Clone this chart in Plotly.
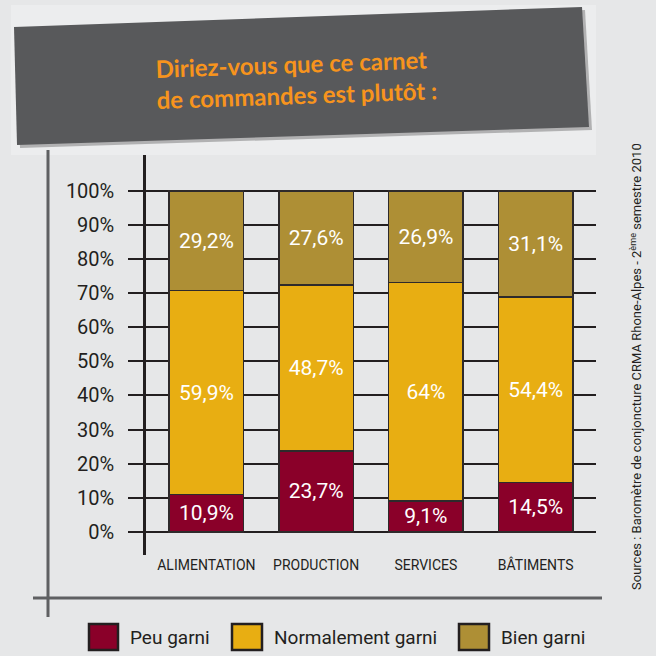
import plotly.graph_objects as go

categories = ["ALIMENTATION", "PRODUCTION", "SERVICES", "BÂTIMENTS"]
series_names = ["Peu garni", "Normalement garni", "Bien garni"]
peu_garni = [10.9, 23.7, 9.1, 14.5]
normalement_garni = [59.9, 48.7, 64.0, 54.4]
bien_garni = [29.2, 27.6, 26.9, 31.1]
tick_values = [0, 10, 20, 30, 40, 50, 60, 70, 80, 90, 100]
tick_labels = [f"{v}%" for v in tick_values]

colors = ["#8a0029", "#e8ae12", "#ae8f35"]
W, H = 656, 656
L, R, T, B = 146, 60, 155, 101
NARROW = "Roboto, Liberation Sans, sans-serif"
DARK = "#231f20"


def px(x):
    return (x - L) / (W - L - R)


def py(y):
    return (H - B - y) / (H - T - B)


def fmt(v):
    s = f"{v:.1f}".rstrip("0").rstrip(".")
    return s.replace(".", ",") + "%"


fig = go.Figure()
for name, vals, col in zip(series_names, [peu_garni, normalement_garni, bien_garni], colors):
    fig.add_trace(go.Bar(
        x=categories, y=vals, name=name,
        marker=dict(color=col, line=dict(color="#2e2a2b", width=1.5)),
        text=[fmt(v) for v in vals], textposition="inside",
        insidetextanchor="middle", textangle=0, constraintext="none",
        textfont=dict(family=NARROW, size=21, color="white"),
        width=0.68, showlegend=False,
    ))

shapes = []
shapes.append(dict(type="rect", xref="paper", yref="paper", x0=px(11), x1=px(596), y0=py(5), y1=py(155),
                   fillcolor="#ecedee", line=dict(width=0), layer="below"))
box = [(14, 27), (582, 7), (589, 127), (17, 145)]


def path(pts, dx=0, dy=0):
    return "M " + " L ".join(f"{px(x+dx)},{py(y+dy)}" for x, y in pts) + " Z"


shapes.append(dict(type="path", xref="paper", yref="paper", path=path(box, 3, 3),
                   fillcolor="rgba(0,0,0,0.25)", line=dict(width=0)))
shapes.append(dict(type="path", xref="paper", yref="paper", path=path(box),
                   fillcolor="#58595b", line=dict(width=0)))
shapes.append(dict(type="line", xref="paper", yref="paper", x0=px(48), x1=px(48), y0=py(150), y1=py(617),
                   line=dict(color="#5f6062", width=3)))
shapes.append(dict(type="line", xref="paper", yref="paper", x0=px(33), x1=px(602), y0=py(598), y1=py(598),
                   line=dict(color="#5f6062", width=3)))

annotations = []
annotations.append(dict(
    xref="paper", yref="paper", x=px(296), y=py(79), xanchor="center", yanchor="middle",
    text="<b>Diriez-vous que ce carnet<br>de commandes est plutôt :</b>", align="left",
    textangle=-2, showarrow=False,
    font=dict(family="Lato, Open Sans, sans-serif", size=24, color="#f7941d"),
))
annotations.append(dict(
    xref="paper", yref="paper", x=px(636), y=py(367), xanchor="center", yanchor="middle",
    text="Sources : Baromètre de conjoncture CRMA Rhone-Alpes - 2<sup>ème</sup> semestre 2010",
    textangle=-90, showarrow=False,
    font=dict(family=NARROW, size=13, color=DARK),
))

leg_boxes = [(89, 118), (232, 262), (459, 489)]
for (x0, x1), name, col in zip(leg_boxes, series_names, colors):
    shapes.append(dict(type="rect", xref="paper", yref="paper", x0=px(x0), x1=px(x1), y0=py(650), y1=py(624),
                       fillcolor=col, line=dict(color=DARK, width=2.5)))
    annotations.append(dict(xref="paper", yref="paper", x=px(x1 + 10), y=py(637), xanchor="left",
                            yanchor="middle", text=name, showarrow=False,
                            font=dict(family=NARROW, size=19, color=DARK)))

fig.update_layout(
    width=W, height=H, barmode="stack",
    margin=dict(l=L, r=R, t=T, b=B, pad=0),
    paper_bgcolor="#e6e7e8", plot_bgcolor="rgba(0,0,0,0)",
    shapes=shapes, annotations=annotations, showlegend=False,
    xaxis=dict(range=[-0.55, 3.55], showgrid=False, showline=False, zeroline=False, ticks="",
               tickfont=dict(family=NARROW, size=14, color=DARK), fixedrange=True),
    yaxis=dict(range=[-6.8, 110.5], tickvals=tick_values, ticktext=tick_labels,
               showgrid=True, gridcolor=DARK, gridwidth=2, zeroline=False,
               showline=True, linecolor=DARK, linewidth=2.5,
               ticks="outside", ticklen=15, tickwidth=2, tickcolor=DARK,
               ticklabelstandoff=10,
               tickfont=dict(family=NARROW, size=20, color=DARK)),
)

fig.write_html("out.html", config={"displayModeBar": False},
               post_script="document.body.style.margin='0';")
